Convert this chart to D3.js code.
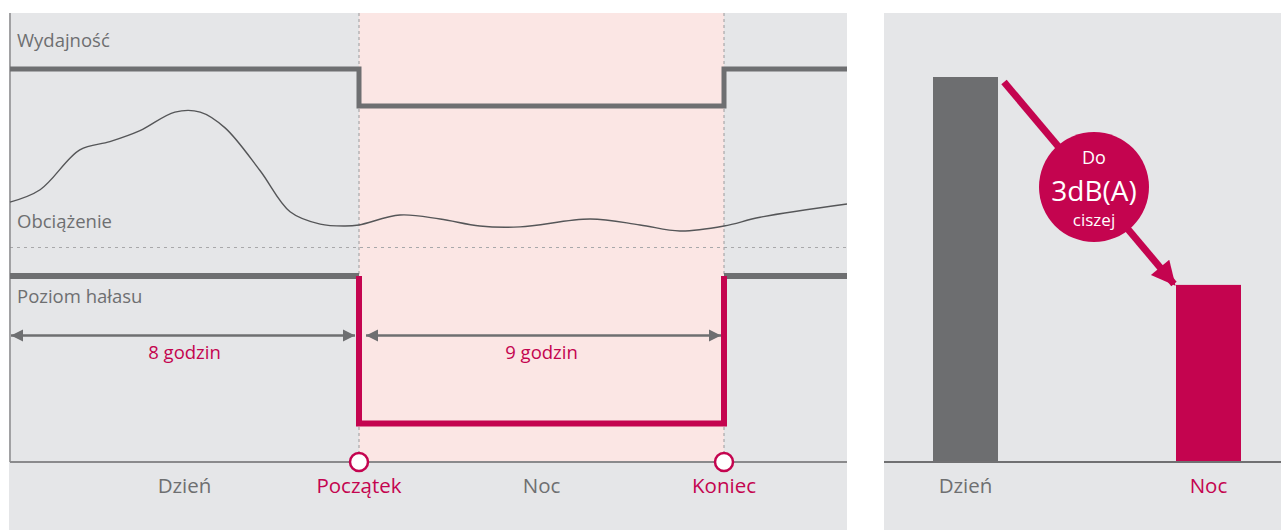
<!DOCTYPE html>
<html>
<head>
<meta charset="utf-8">
<script src="https://cdn.jsdelivr.net/npm/d3@7"></script>
<style>
  html,body{margin:0;padding:0;background:#fff;}
  svg{display:block;font-family:"Open Sans","Noto Sans",sans-serif;}
</style>
</head>
<body>
<div id="chart"></div>
<script>
// ── data ─────────────────────────────────────────
const phaseHours = [0, 8, 17, 20];           // start, night start, night end, right edge
const phaseLabels = ["Dzień", "Początek", "Noc", "Koniec"];
const perfSteps = [[0,1],[8,0],[17,1],[20,1]];   // 1 = full, 0 = reduced
const noiseSteps = [[0,1],[8,0],[17,1],[20,1]];
const loadHours  = [0,0.69,1.6,2.29,2.98,3.78,4.36,4.93,5.73,6.42,7.11,7.68,8,9.01,10,10.98,11.97,13.7,14.93,15.91,17,17.88,20];
const loadValues = [33,42,71,77,85,98.5,98.5,87,56,26,17,15.6,16.4,23.6,20.7,15.6,15,20.7,16.4,12,15.6,22,31.6];
const spans = [{from:0,to:8,label:"8 godzin"},{from:8,to:17,label:"9 godzin"}];
const barCats = ["Dzień","Noc"];
const barValues = [100, 46];

const W=1281, H=530;
const GRAY="#6e6f71", MAG="#c4044f", BG="#e5e6e8", NIGHT="#fbe6e4", TXT="#6e6f71";

const svg=d3.select("#chart").append("svg").attr("width",W).attr("height",H);

// ════════ LEFT PANEL ════════
const L={x0:10,x1:847,top:13,base:462};
const x=d3.scaleLinear().domain(phaseHours).range([10,359,724,847]);
const perfY=d3.scaleLinear().domain([0,1]).range([106,69]);
const loadY=d3.scaleLinear().domain([0,100]).range([247.5,110]);
const noiseY=d3.scaleLinear().domain([0,1]).range([423.5,276]);

svg.append("rect").attr("x",9).attr("y",L.top).attr("width",L.x1-9).attr("height",H-L.top).attr("fill",BG);
svg.append("rect").attr("x",x(8)).attr("y",L.top).attr("width",x(17)-x(8)).attr("height",L.base-L.top).attr("fill",NIGHT);

// dashed guides
[8,17].forEach(h=>{
  svg.append("line").attr("x1",x(h)).attr("x2",x(h)).attr("y1",L.top).attr("y2",L.base)
    .attr("stroke","#9a9a9c").attr("stroke-width",1).attr("stroke-dasharray","3,3");
});
svg.append("line").attr("x1",L.x0).attr("x2",L.x1).attr("y1",247.5).attr("y2",247.5)
  .attr("stroke","#a8a8aa").attr("stroke-width",1).attr("stroke-dasharray","3,4");

// axes
svg.append("line").attr("x1",L.x0).attr("x2",L.x0).attr("y1",L.top).attr("y2",L.base).attr("stroke","#8a8a8c").attr("stroke-width",1.5);
svg.append("line").attr("x1",L.x0).attr("x2",L.x1).attr("y1",L.base).attr("y2",L.base).attr("stroke","#8a8a8c").attr("stroke-width",2);

// section labels
const secLab=(t,y)=>svg.append("text").attr("x",17).attr("y",y).attr("fill",TXT).attr("font-size",18.5).text(t);
secLab("Wydajność",47);
secLab("Obciążenie",228);
secLab("Poziom hałasu",303);

// performance step
const step=d3.line().x(d=>x(d[0])).curve(d3.curveStepAfter);
svg.append("path").attr("d",step.y(d=>perfY(d[1]))(perfSteps))
  .attr("fill","none").attr("stroke",GRAY).attr("stroke-width",5);

// load curve
const loadLine=d3.line().x(d=>x(d[0])).y(d=>loadY(d[1])).curve(d3.curveCatmullRom.alpha(0.5));
svg.append("path").attr("d",loadLine(d3.zip(loadHours,loadValues)))
  .attr("fill","none").attr("stroke","#555658").attr("stroke-width",1.4);

// noise level: gray outside night, magenta inside
svg.append("path").attr("d",d3.line()([[x(noiseSteps[0][0]),noiseY(noiseSteps[0][1])],[x(noiseSteps[1][0]),noiseY(noiseSteps[0][1])]]))
  .attr("stroke",GRAY).attr("stroke-width",6);
svg.append("path").attr("d",d3.line()([[x(noiseSteps[2][0]),noiseY(noiseSteps[2][1])],[x(noiseSteps[3][0]),noiseY(noiseSteps[3][1])]]))
  .attr("stroke",GRAY).attr("stroke-width",6);
svg.append("path").attr("d",d3.line()([
    [x(noiseSteps[1][0]),noiseY(noiseSteps[0][1])],
    [x(noiseSteps[1][0]),noiseY(noiseSteps[1][1])],
    [x(noiseSteps[2][0]),noiseY(noiseSteps[1][1])],
    [x(noiseSteps[2][0]),noiseY(noiseSteps[2][1])]]))
  .attr("fill","none").attr("stroke",MAG).attr("stroke-width",6).attr("stroke-linejoin","miter");

// span arrows
const defs=svg.append("defs");
["s","e"].forEach(k=>{
  defs.append("marker").attr("id","ah"+k).attr("viewBox","0 0 10 10").attr("refX",k==="e"?10:0).attr("refY",5)
    .attr("markerWidth",12).attr("markerHeight",13).attr("markerUnits","userSpaceOnUse").attr("orient","auto")
    .append("path").attr("d",k==="e"?"M0,0L10,5L0,10Z":"M10,0L0,5L10,10Z").attr("fill",GRAY);
});
const arrowY=335.5;
spans.forEach((s,i)=>{
  const a=x(s.from)+(i===0?1:7), b=x(s.to)-(i===0?4:3);
  svg.append("line").attr("x1",a).attr("x2",b).attr("y1",arrowY).attr("y2",arrowY)
    .attr("stroke",GRAY).attr("stroke-width",2.5)
    .attr("marker-start","url(#ahs)").attr("marker-end","url(#ahe)");
  svg.append("text").attr("x",(x(s.from)+x(s.to))/2).attr("y",359).attr("text-anchor","middle")
    .attr("fill",MAG).attr("font-size",18.5).text(s.label);
});

// markers
[8,17].forEach(h=>{
  svg.append("circle").attr("cx",x(h)).attr("cy",L.base).attr("r",9)
    .attr("fill","#fff").attr("stroke",MAG).attr("stroke-width",2.5);
});

// bottom labels
const midDay=(x(0)+x(8))/2, midNight=(x(8)+x(17))/2;
[[midDay,phaseLabels[0],TXT],[x(8),phaseLabels[1],MAG],[midNight,phaseLabels[2],TXT],[x(17),phaseLabels[3],MAG]]
  .forEach(([px,t,c])=>svg.append("text").attr("x",px).attr("y",493).attr("text-anchor","middle")
    .attr("fill",c).attr("font-size",20.5).text(t));

// ════════ RIGHT PANEL ════════
const R={x0:884,x1:1281,top:13,base:462};
svg.append("rect").attr("x",R.x0).attr("y",R.top).attr("width",R.x1-R.x0).attr("height",H-R.top).attr("fill",BG);

const bx=d3.scaleBand().domain(barCats).range([933,1241]).paddingInner(0.7325).paddingOuter(0);
const by=d3.scaleLinear().domain([0,100]).range([R.base,77]);
const barColor=d3.scaleOrdinal().domain(barCats).range(["#6d6e70",MAG]);

svg.selectAll(".bar").data(barCats).join("rect").attr("class","bar")
  .attr("x",d=>bx(d)).attr("width",bx.bandwidth())
  .attr("y",(d,i)=>by(barValues[i])).attr("height",(d,i)=>R.base-by(barValues[i]))
  .attr("fill",d=>barColor(d));

svg.append("line").attr("x1",R.x0).attr("x2",R.x1).attr("y1",R.base).attr("y2",R.base).attr("stroke","#707072").attr("stroke-width",2);

svg.selectAll(".blab").data(barCats).join("text").attr("class","blab")
  .attr("x",d=>bx(d)+bx.bandwidth()/2).attr("y",493).attr("text-anchor","middle")
  .attr("fill",(d,i)=>i===0?TXT:MAG).attr("font-size",20.5).text(d=>d);

// diagonal arrow from bar top to bar top
defs.append("marker").attr("id","ahm").attr("viewBox","0 0 10 10").attr("refX",9).attr("refY",5)
  .attr("markerWidth",26).attr("markerHeight",24).attr("markerUnits","userSpaceOnUse").attr("orient","auto")
  .append("path").attr("d","M0,0L10,5L0,10Z").attr("fill",MAG);
const p0=[bx(barCats[0])+bx.bandwidth()+6, by(barValues[0])+5];
const p1=[bx(barCats[1])-2, by(barValues[1])-1];
svg.append("line").attr("x1",p0[0]).attr("y1",p0[1]).attr("x2",p1[0]).attr("y2",p1[1])
  .attr("stroke",MAG).attr("stroke-width",7).attr("marker-end","url(#ahm)");

const cx=1094, cy=187;
svg.append("circle").attr("cx",cx).attr("cy",cy).attr("r",55).attr("fill",MAG);
svg.append("text").attr("x",cx).attr("y",164).attr("text-anchor","middle").attr("fill","#fff").attr("font-size",18).text("Do");
svg.append("text").attr("x",cx).attr("y",201).attr("text-anchor","middle").attr("fill","#fff").attr("font-size",28).text("3dB(A)");
svg.append("text").attr("x",cx).attr("y",226).attr("text-anchor","middle").attr("fill","#fff").attr("font-size",17).text("ciszej");
</script>
</body>
</html>
